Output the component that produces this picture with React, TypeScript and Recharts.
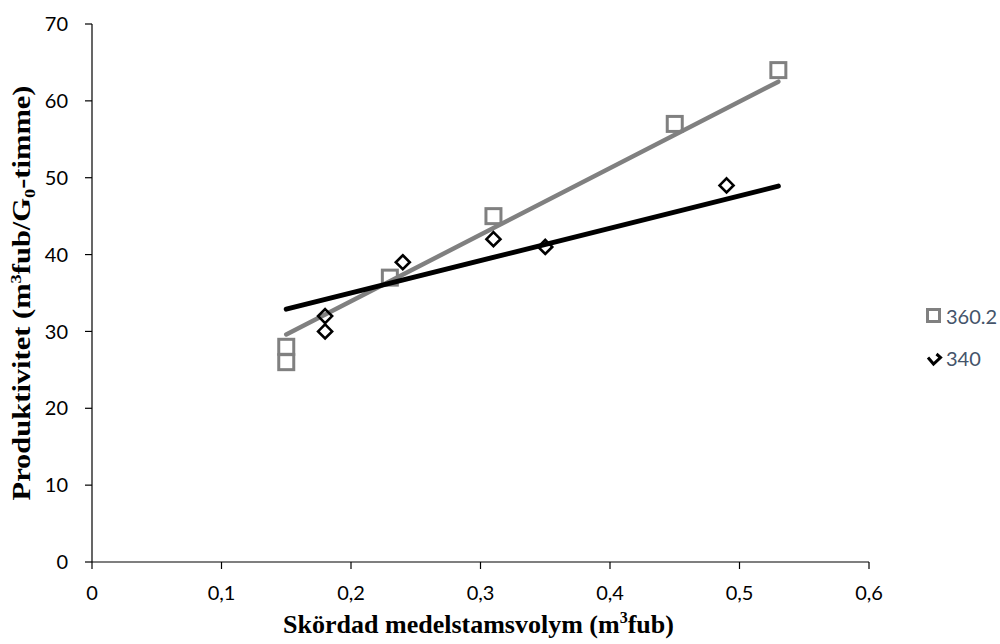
import React from 'react';
import { ScatterChart, Scatter, XAxis, YAxis } from 'recharts';

const x360 = [0.15, 0.15, 0.23, 0.31, 0.45, 0.53];
const y360 = [28, 26, 37, 45, 57, 64];
const x340 = [0.18, 0.18, 0.24, 0.31, 0.35, 0.49];
const y340 = [32, 30, 39, 42, 41, 49];
const trendX = [0.15, 0.53];
const trend360 = [29.6, 62.5];
const trend340 = [32.9, 48.9];
const xTicks = [0, 0.1, 0.2, 0.3, 0.4, 0.5, 0.6];
const yTicks = [0, 10, 20, 30, 40, 50, 60, 70];
const seriesNames = ['360.2', '340'];

const toPts = (xs: number[], ys: number[]) => xs.map((x, i) => ({ x, y: ys[i] }));
const data360 = toPts(x360, y360);
const data340 = toPts(x340, y340);
const tData360 = toPts(trendX, trend360);
const tData340 = toPts(trendX, trend340);

const GRAY = '#808080';
const TICK_FONT = 'Lato, "Open Sans", sans-serif';
const TITLE_FONT = '"Liberation Serif", "Times New Roman", serif';

const Square = (p: any) => {
  const { cx, cy } = p;
  if (cx == null || cy == null) return <g />;
  return <rect x={cx - 7.5} y={cy - 7.5} width={15} height={15} fill="#fff" fillOpacity={0} stroke={GRAY} strokeWidth={3} />;
};

const Diamond = (p: any) => {
  const { cx, cy } = p;
  if (cx == null || cy == null) return <g />;
  const r = 7;
  return (
    <path
      d={`M${cx},${cy - r} L${cx + r},${cy} L${cx},${cy + r} L${cx - r},${cy} Z`}
      fill="none"
      stroke="#000"
      strokeWidth={2.6}
    />
  );
};

const Nothing = () => <g />;

const XTitle = (props: any) => {
  const vb = props.viewBox || {};
  const cx = vb.x + vb.width / 2;
  return (
    <text
      x={cx - 2}
      y={633}
      textAnchor="middle"
      fontFamily={TITLE_FONT}
      fontWeight="bold"
      fontSize={26}
      fill="#000"
    >
      <tspan>Skördad medelstamsvolym (m</tspan>
      <tspan fontSize={16} dy={-10}>3</tspan>
      <tspan dy={10}>fub)</tspan>
    </text>
  );
};

const YTitle = (props: any) => {
  const vb = props.viewBox || {};
  const cy = vb.y + vb.height / 2;
  const x = 30;
  return (
    <text
      x={x}
      y={cy}
      transform={`rotate(-90, ${x}, ${cy})`}
      textAnchor="middle"
      fontFamily={TITLE_FONT}
      fontWeight="bold"
      fontSize={25}
      fill="#000"
      textLength={415}
      lengthAdjust="spacingAndGlyphs"
    >
      <tspan>Produktivitet (m</tspan>
      <tspan fontSize={15} dy={-9}>3</tspan>
      <tspan dy={9}>fub/G</tspan>
      <tspan fontSize={15} dy={5}>0</tspan>
      <tspan dy={-5}>-timme)</tspan>
    </text>
  );
};

const fmt = (v: number) => String(v).replace('.', ',');

export default function App() {
  return (
    <div style={{ position: 'absolute', left: 0, top: 0, width: 1000, height: 644, background: '#fff' }}>
      <ScatterChart width={1000} height={644} margin={{ top: 24, right: 131, bottom: 42, left: 0 }}>
        <XAxis
          type="number"
          dataKey="x"
          domain={[0, 0.6]}
          ticks={xTicks}
          interval={0}
          tickFormatter={fmt}
          height={40}
          tickSize={7}
          tickMargin={17}
          axisLine={{ stroke: '#000', strokeWidth: 1.2 }}
          tickLine={{ stroke: '#000', strokeWidth: 1.2 }}
          tick={{ fill: '#000', fontSize: 20, fontFamily: TICK_FONT }}
          label={<XTitle />}
        />
        <YAxis
          type="number"
          dataKey="y"
          domain={[0, 70]}
          ticks={yTicks}
          interval={0}
          width={92}
          tickSize={7}
          tickMargin={17}
          axisLine={{ stroke: '#000', strokeWidth: 1.2 }}
          tickLine={{ stroke: '#000', strokeWidth: 1.2 }}
          tick={{ fill: '#000', fontSize: 20, fontFamily: TICK_FONT }}
          label={<YTitle />}
        />
        <Scatter name={seriesNames[0]} data={data360} shape={Square} isAnimationActive={false} />
        <Scatter
          data={tData360}
          shape={Nothing}
          line={{ stroke: GRAY, strokeWidth: 4.5, strokeLinecap: 'round' }}
          isAnimationActive={false}
        />
        <Scatter
          data={tData340}
          shape={Nothing}
          line={{ stroke: '#000', strokeWidth: 5, strokeLinecap: 'round' }}
          isAnimationActive={false}
        />
        <Scatter name={seriesNames[1]} data={data340} shape={Diamond} isAnimationActive={false} />
      </ScatterChart>
      <div style={{ position: 'absolute', left: 0, top: 0, width: 1000, height: 644, pointerEvents: 'none' }}>
        <svg width={1000} height={644} style={{ position: 'absolute', left: 0, top: 0 }}>
          <rect x={927.5} y={309.5} width={12} height={12} fill="none" stroke={GRAY} strokeWidth={3} />
          <text x={946} y={323.5} fontFamily={TICK_FONT} fontSize={20} fill="#44546A">{seriesNames[0]}</text>
          <path d="M928,357.5 L933.5,364 L940.5,357.5 L936.5,354" fill="none" stroke="#000" strokeWidth={3} />
          <text x={946} y={365.5} fontFamily={TICK_FONT} fontSize={20} fill="#44546A">{seriesNames[1]}</text>
        </svg>
      </div>
    </div>
  );
}
